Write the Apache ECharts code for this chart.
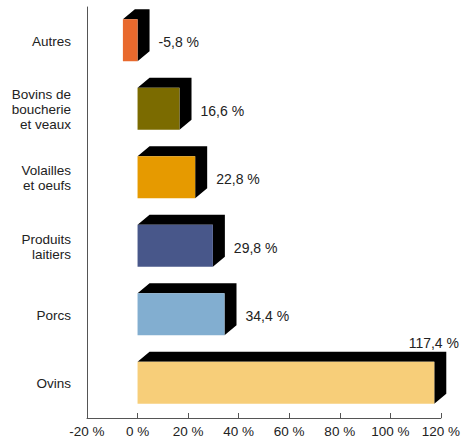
<!DOCTYPE html>
<html>
<head>
<meta charset="utf-8">
<script src="https://cdn.jsdelivr.net/npm/echarts@6/dist/echarts.min.js"></script>
<style>
  html, body { margin: 0; padding: 0; background: #fff; }
  #main { width: 463px; height: 439px; }
</style>
</head>
<body>
<div id="main"></div>
<script>
// categories, top to bottom
const categories = ['Autres', 'Bovins de\nboucherie\net veaux', 'Volailles\net oeufs', 'Produits\nlaitiers', 'Porcs', 'Ovins']
// variation in %
const values = [-5.8, 16.6, 22.8, 29.8, 34.4, 117.4]
const barColors = ['#e8692d', '#7b6b00', '#e69a00', '#48578a', '#82aed0', '#f7ce79']
const FONT = '"Liberation Sans", Arial, Helvetica, sans-serif'

const ctx = document.createElement('canvas').getContext('2d')
ctx.font = '14px ' + FONT

function fmt (v) {
  return v.toFixed(1).replace('.', ',') + ' %'
}

function renderBox (params, api) {
  const v = api.value(0)
  const cat = api.value(1)
  const dx = 12
  const dy = 10
  const h = 42
  const center = api.coord([0, cat])[1] - 1
  const x0 = api.coord([Math.min(v, 0), cat])[0]
  const x1 = api.coord([Math.max(v, 0), cat])[0]
  const yTop = center - h / 2
  const yBot = center + h / 2
  const txt = fmt(v)
  const tw = ctx.measureText(txt).width
  let label
  if (x1 + 22 + tw > api.getWidth()) {
    // no room on the right: put it above the box
    label = { x: api.getWidth() - 4, y: yTop - dy - 9, align: 'right' }
  } else {
    label = { x: x1 + 21, y: center + 2, align: 'left' }
  }
  return {
    type: 'group',
    children: [
      {
        type: 'polygon',
        shape: {
          points: [[x0, yTop], [x0 + dx, yTop - dy], [x1 + dx, yTop - dy], [x1 + dx, yBot - dy], [x1, yBot], [x1, yTop]]
        },
        style: { fill: '#000' }
      },
      {
        type: 'rect',
        shape: { x: x0, y: yTop, width: x1 - x0, height: h },
        style: { fill: barColors[params.dataIndex] }
      },
      {
        type: 'text',
        style: {
          text: txt,
          x: label.x,
          y: label.y,
          align: label.align,
          verticalAlign: 'middle',
          fill: '#222',
          font: '14px ' + FONT
        }
      }
    ]
  }
}

const chart = echarts.init(document.getElementById('main'), null, { renderer: 'svg' })
chart.setOption({
  animation: false,
  textStyle: { fontFamily: FONT },
  grid: { left: 87, right: 22, top: 7, bottom: 21 },
  xAxis: {
    type: 'value',
    min: -20,
    max: 120,
    interval: 20,
    splitLine: { show: false },
    axisLine: { show: true, lineStyle: { color: '#555', width: 1 } },
    axisTick: { show: true, inside: true, length: 5, lineStyle: { color: '#555' } },
    axisLabel: {
      margin: 6,
      fontSize: 13.5,
      color: '#222',
      formatter: function (v) { return v + ' %' }
    }
  },
  yAxis: {
    type: 'category',
    data: categories,
    inverse: true,
    axisLine: { show: true, onZero: false, lineStyle: { color: '#555', width: 1 } },
    axisTick: { show: false },
    axisLabel: {
      margin: 16,
      fontSize: 13.5,
      lineHeight: 15,
      color: '#222',
      align: 'right'
    }
  },
  series: [{
    type: 'custom',
    renderItem: renderBox,
    encode: { x: 0, y: 1 },
    data: values.map(function (v, i) { return [v, i] }),
    clip: false
  }]
})
</script>
</body>
</html>
